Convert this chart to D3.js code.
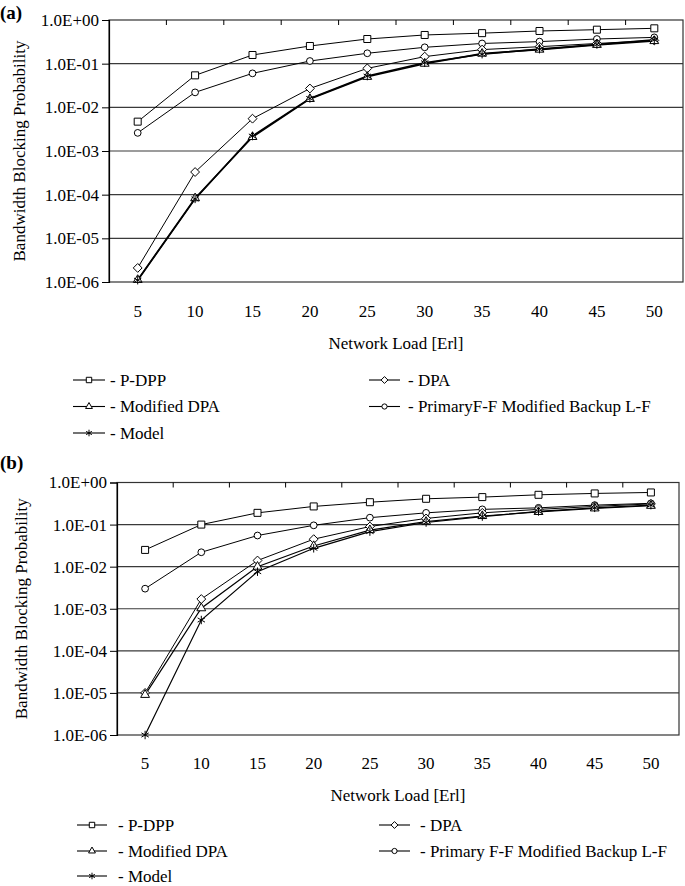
<!DOCTYPE html>
<html><head><meta charset="utf-8">
<script src="https://cdn.jsdelivr.net/npm/d3@7"></script>
<style>body{margin:0;background:#fff}svg{display:block}</style>
</head><body>
<svg id="c" width="685" height="886"></svg>
<script>
// ---------- data ----------
const loads = [5, 10, 15, 20, 25, 30, 35, 40, 45, 50];
const yTickValues = [1, 1e-1, 1e-2, 1e-3, 1e-4, 1e-5, 1e-6];
const yTickLabels = ["1.0E+00", "1.0E-01", "1.0E-02", "1.0E-03", "1.0E-04", "1.0E-05", "1.0E-06"];
const xTitle = "Network Load [Erl]";
const yTitle = "Bandwidth Blocking Probability";

// chart (a)
const aPDPP      = [4.7e-3, 0.054, 0.158, 0.254, 0.367, 0.454, 0.50, 0.56, 0.60, 0.645];
const aDPA       = [2.1e-6, 3.3e-4, 5.5e-3, 0.027, 0.078, 0.145, 0.21, 0.245, 0.29, 0.34];
const aModDPA    = [1.12e-6, 8.3e-5, 2.1e-3, 0.0156, 0.050, 0.10, 0.17, 0.21, 0.27, 0.33];
const aModel     = [1.1e-6, 8.0e-5, 2.2e-3, 0.016, 0.052, 0.105, 0.165, 0.215, 0.275, 0.35];
const aPrimaryFF = [2.6e-3, 0.022, 0.060, 0.115, 0.173, 0.237, 0.29, 0.32, 0.367, 0.40];

// chart (b)
const bPDPP      = [0.025, 0.10, 0.19, 0.27, 0.34, 0.41, 0.45, 0.51, 0.55, 0.58];
const bDPA       = [1.0e-5, 1.7e-3, 0.014, 0.045, 0.09, 0.14, 0.19, 0.23, 0.27, 0.31];
const bModDPA    = [9e-6, 1.03e-3, 0.010, 0.031, 0.074, 0.117, 0.16, 0.20, 0.243, 0.28];
const bModel     = [1e-6, 5.4e-4, 7.6e-3, 0.0273, 0.068, 0.112, 0.155, 0.205, 0.25, 0.29];
const bPrimaryFF = [3.0e-3, 0.022, 0.055, 0.096, 0.146, 0.19, 0.23, 0.25, 0.29, 0.32];

const legendA = ["- P-DPP", "- DPA", "- Modified DPA", "- PrimaryF-F Modified Backup L-F", "- Model"];
const legendB = ["- P-DPP", "- DPA", "- Modified DPA", "- Primary F-F Modified Backup L-F", "- Model"];
const markers = ["square", "diamond", "triangle", "circle", "asterisk"];

// ---------- font detection ----------
function pickFont(cands) {
  const ctx = document.createElement("canvas").getContext("2d");
  const sample = "Bandwidth Blocking Probability 1.0E-06 Wmil";
  for (const f of cands) {
    for (const base of ["monospace", "sans-serif"]) {
      ctx.font = `40px ${base}`;
      const w0 = ctx.measureText(sample).width;
      ctx.font = `40px "${f}", ${base}`;
      const w1 = ctx.measureText(sample).width;
      if (Math.abs(w1 - w0) > 0.5) return `"${f}", serif`;
    }
  }
  return "serif";
}
const FF = pickFont(["Liberation Serif", "Times New Roman", "Tinos", "DejaVu Serif", "Noto Serif", "FreeSerif", "Nimbus Roman"]);

// ---------- drawing ----------
const svg = d3.select("#c");
const FS = 17;

function symPath(kind, s) {
  const map = {
    square: d3.symbolSquare,
    diamond: d3.symbolDiamond2 || d3.symbolDiamond,
    triangle: d3.symbolTriangle,
    circle: d3.symbolCircle,
    asterisk: d3.symbolAsterisk || d3.symbolCross
  };
  const size = {square: 49, diamond: 50, triangle: 34, circle: 36, asterisk: 50}[kind] * s;
  return d3.symbol().type(map[kind]).size(size)();
}

function txt(sel, size) {
  return sel.style("font-family", FF).attr("font-size", size || FS).attr("fill", "#000");
}

function drawChart(cfg) {
  const g = svg.append("g");
  const x = d3.scaleBand().domain(loads).range([cfg.left, cfg.right]);
  const y = d3.scaleLog().domain([1e-6, 1]).range([cfg.bottom, cfg.top]);
  const cx = d => x(d) + x.bandwidth() / 2;

  g.selectAll(".grid").data(yTickValues.slice(1, -1)).join("line")
    .attr("x1", cfg.left).attr("x2", cfg.right)
    .attr("y1", d => y(d)).attr("y2", d => y(d))
    .attr("stroke", "#3a3a3a").attr("stroke-width", 1.1);

  g.append("rect").attr("x", cfg.left).attr("y", y(1)).attr("width", cfg.right - cfg.left)
    .attr("height", y(1e-6) - y(1)).attr("fill", "none").attr("stroke", "#333").attr("stroke-width", 1.2);

  const yAxis = d3.axisLeft(y).tickValues(yTickValues)
    .tickFormat((d, i) => yTickLabels[i]).tickSize(7).tickPadding(3);
  const ya = g.append("g").attr("transform", `translate(${cfg.left},0)`).call(yAxis);
  ya.attr("font-family", null).attr("font-size", FS);
  ya.select(".domain").attr("stroke", "#000").attr("stroke-width", 1.2);
  txt(ya.selectAll("text"));
  ya.selectAll(".tick line").attr("stroke", "#000");

  const bounds = loads.slice(1).map(d => x(d));
  g.selectAll(".xt").data(bounds).join("line")
    .attr("x1", d => d).attr("x2", d => d)
    .attr("y1", y(1)).attr("y2", y(1) + 5).attr("stroke", "#000");

  txt(g.selectAll(".xl").data(loads).join("text")
    .attr("x", d => cx(d)).attr("y", cfg.bottom + cfg.xLabelOff)
    .attr("text-anchor", "middle")).text(d => d);

  txt(g.append("text").attr("x", (cfg.left + cfg.right) / 2).attr("y", cfg.bottom + cfg.xTitleOff)
    .attr("text-anchor", "middle")).text(xTitle);
  txt(g.append("text").attr("transform", `translate(${cfg.yTitleX},${(cfg.top + cfg.bottom) / 2}) rotate(-90)`)
    .attr("text-anchor", "middle")).text(yTitle);
  txt(g.append("text").attr("x", 0).attr("y", cfg.tagY), 19)
    .attr("font-weight", "bold").text(cfg.tag);

  const line = d3.line().x((d, i) => cx(loads[i])).y(d => y(d));
  cfg.series.forEach(s => {
    g.append("path").datum(s.values).attr("d", line).attr("fill", "none")
      .attr("stroke", "#000").attr("stroke-width", s.w);
  });
  cfg.series.forEach(s => {
    g.selectAll(null).data(s.values).join("path")
      .attr("transform", (d, i) => `translate(${cx(loads[i])},${y(d)})`)
      .attr("d", symPath(s.marker, 1))
      .attr("fill", s.marker === "asterisk" ? "none" : "#fff")
      .attr("stroke", "#000").attr("stroke-width", 1);
  });

  cfg.legend.forEach(it => {
    const lg = g.append("g");
    lg.append("line").attr("x1", it.x1).attr("x2", it.x2).attr("y1", it.y).attr("y2", it.y)
      .attr("stroke", "#000").attr("stroke-width", 1.1);
    lg.append("path").attr("transform", `translate(${(it.x1 + it.x2) / 2},${it.y})`)
      .attr("d", symPath(it.marker, 0.6))
      .attr("fill", it.marker === "asterisk" ? "none" : "#fff").attr("stroke", "#000");
    txt(lg.append("text").attr("x", it.tx).attr("y", it.y + 5.5)).text(it.label);
  });
}

function legendItems(labels, rows, leftCol, rightCol) {
  const pos = [[leftCol, rows[0]], [rightCol, rows[0]], [leftCol, rows[1]], [rightCol, rows[1]], [leftCol, rows[2]]];
  return labels.map((l, i) => ({
    label: l, marker: markers[i], x1: pos[i][0][0], x2: pos[i][0][1], tx: pos[i][0][2], y: pos[i][1]
  }));
}

drawChart({
  left: 109, right: 683, top: 20, bottom: 282, xLabelOff: 35, xTitleOff: 67, yTitleX: 25,
  tag: "(a)", tagY: 19,
  series: [
    {values: aPDPP, marker: "square", w: 1},
    {values: aPrimaryFF, marker: "circle", w: 1},
    {values: aDPA, marker: "diamond", w: 1},
    {values: aModDPA, marker: "triangle", w: 1.6},
    {values: aModel, marker: "asterisk", w: 1.6}
  ],
  legend: legendItems(legendA, [380, 406.5, 433], [73, 105, 110], [369, 400, 408])
});

drawChart({
  left: 117, right: 679, top: 482.5, bottom: 735, xLabelOff: 34, xTitleOff: 66, yTitleX: 27,
  tag: "(b)", tagY: 469,
  series: [
    {values: bPDPP, marker: "square", w: 1},
    {values: bPrimaryFF, marker: "circle", w: 1},
    {values: bDPA, marker: "diamond", w: 1},
    {values: bModDPA, marker: "triangle", w: 1.2},
    {values: bModel, marker: "asterisk", w: 1.2}
  ],
  legend: legendItems(legendB, [825, 851, 876], [77, 107, 118], [379, 410, 420])
});
</script>
</body></html>
